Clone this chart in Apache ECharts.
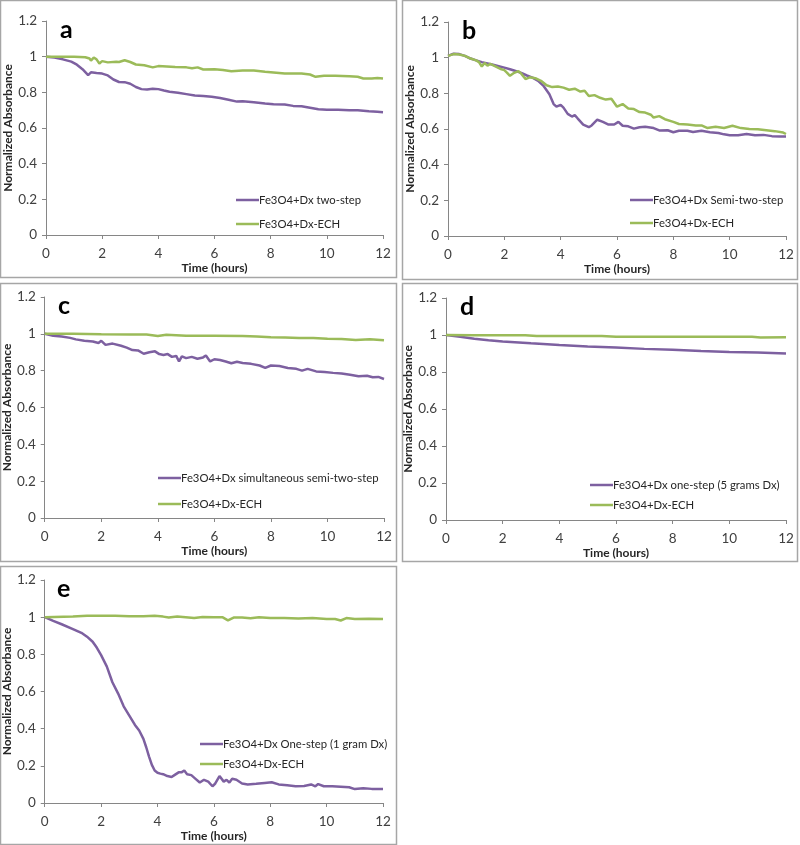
<!DOCTYPE html>
<html>
<head>
<meta charset="utf-8">
<script src="https://cdn.jsdelivr.net/npm/echarts@6/dist/echarts.min.js"></script>
<style>
  html, body { margin: 0; padding: 0; background: #fff; }
  #main { width: 800px; height: 845px; }
</style>
</head>
<body>
<div id="main"></div>
<script>
// 数据：每条曲线 [时间(小时), 归一化吸光度]
var aTwoStep = [[0,1],[0.3,0.995],[0.6,0.985],[0.9,0.972],[1.1,0.955],[1.3,0.93],[1.5,0.897],[1.6,0.912],[1.8,0.908],[2,0.905],[2.2,0.895],[2.4,0.872],[2.6,0.858],[2.8,0.857],[3,0.848],[3.2,0.83],[3.4,0.818],[3.6,0.816],[3.8,0.82],[4,0.818],[4.2,0.81],[4.4,0.803],[4.7,0.798],[5,0.79],[5.3,0.782],[5.6,0.78],[5.9,0.775],[6.2,0.768],[6.5,0.758],[6.8,0.748],[7,0.75],[7.4,0.745],[7.8,0.738],[8.1,0.733],[8.5,0.732],[8.8,0.724],[9.1,0.722],[9.4,0.714],[9.7,0.705],[10,0.703],[10.4,0.703],[10.8,0.7],[11.1,0.699],[11.5,0.694],[11.8,0.691],[12,0.689]];
var aEch = [[0,1],[0.5,1],[1,0.999],[1.4,0.997],[1.55,0.99],[1.6,0.978],[1.7,0.995],[1.8,0.985],[1.9,0.962],[2,0.975],[2.2,0.968],[2.5,0.972],[2.6,0.97],[2.8,0.98],[3,0.97],[3.2,0.956],[3.5,0.952],[3.8,0.94],[4,0.947],[4.3,0.945],[4.6,0.942],[5,0.94],[5.2,0.935],[5.4,0.94],[5.6,0.928],[6,0.93],[6.3,0.925],[6.6,0.918],[7,0.922],[7.4,0.922],[7.8,0.915],[8.2,0.91],[8.5,0.905],[8.8,0.905],[9.1,0.906],[9.4,0.9],[9.6,0.887],[9.9,0.893],[10.3,0.893],[10.8,0.89],[11.1,0.887],[11.3,0.878],[11.6,0.877],[11.8,0.88],[12,0.877]];

var bSemi = [[0,1.01],[0.2,1.022],[0.4,1.02],[0.6,1.01],[0.8,0.995],[1,0.985],[1.2,0.975],[1.4,0.968],[1.6,0.96],[1.8,0.952],[2,0.944],[2.2,0.935],[2.4,0.925],[2.6,0.915],[2.8,0.9],[3,0.888],[3.2,0.87],[3.4,0.84],[3.6,0.795],[3.75,0.74],[3.85,0.725],[4,0.735],[4.1,0.72],[4.25,0.685],[4.4,0.67],[4.5,0.678],[4.6,0.66],[4.8,0.625],[5,0.61],[5.1,0.62],[5.3,0.652],[5.5,0.64],[5.7,0.625],[5.9,0.625],[6.05,0.64],[6.2,0.618],[6.4,0.615],[6.6,0.602],[6.8,0.61],[7,0.612],[7.3,0.605],[7.5,0.592],[7.8,0.593],[8,0.582],[8.2,0.59],[8.5,0.59],[8.7,0.583],[9,0.59],[9.3,0.582],[9.6,0.578],[9.8,0.57],[10,0.565],[10.3,0.565],[10.6,0.572],[10.9,0.565],[11.2,0.567],[11.5,0.56],[11.8,0.558],[12,0.558]];
var bEch = [[0,1.01],[0.2,1.02],[0.4,1.018],[0.6,1.01],[0.8,0.995],[1,0.985],[1.1,0.975],[1.2,0.95],[1.3,0.97],[1.4,0.955],[1.5,0.965],[1.7,0.95],[1.9,0.935],[2,0.93],[2.1,0.915],[2.2,0.898],[2.35,0.915],[2.5,0.925],[2.6,0.91],[2.75,0.88],[2.9,0.89],[3.1,0.885],[3.3,0.87],[3.5,0.845],[3.7,0.835],[3.9,0.838],[4.1,0.832],[4.3,0.82],[4.5,0.826],[4.7,0.81],[4.85,0.815],[5,0.785],[5.2,0.79],[5.4,0.775],[5.6,0.765],[5.8,0.77],[6,0.725],[6.2,0.74],[6.4,0.715],[6.6,0.712],[6.8,0.695],[7,0.692],[7.2,0.68],[7.3,0.664],[7.5,0.672],[7.7,0.655],[8,0.64],[8.2,0.628],[8.5,0.625],[8.8,0.62],[9,0.62],[9.2,0.606],[9.5,0.612],[9.8,0.606],[10.1,0.618],[10.4,0.605],[10.7,0.6],[11,0.598],[11.3,0.593],[11.6,0.588],[11.9,0.58],[12,0.572]];

var cSimul = [[0,1],[0.3,0.99],[0.6,0.985],[0.9,0.978],[1.1,0.97],[1.4,0.962],[1.7,0.958],[1.9,0.95],[2,0.962],[2.15,0.94],[2.4,0.947],[2.7,0.935],[2.9,0.925],[3.1,0.912],[3.3,0.91],[3.5,0.892],[3.7,0.9],[3.9,0.905],[4.05,0.89],[4.2,0.885],[4.35,0.89],[4.5,0.875],[4.65,0.88],[4.75,0.85],[4.85,0.878],[5,0.868],[5.2,0.875],[5.4,0.865],[5.6,0.872],[5.7,0.882],[5.85,0.85],[6,0.862],[6.2,0.858],[6.4,0.85],[6.6,0.84],[6.8,0.848],[7,0.842],[7.3,0.837],[7.6,0.828],[7.8,0.815],[8,0.828],[8.3,0.825],[8.6,0.815],[8.9,0.81],[9.1,0.8],[9.3,0.81],[9.6,0.796],[9.9,0.793],[10.2,0.788],[10.5,0.785],[10.8,0.778],[11.1,0.77],[11.4,0.772],[11.6,0.764],[11.8,0.766],[12,0.755]];
var cEch = [[0,1],[1,1],[2,0.998],[3,0.997],[3.6,0.996],[4,0.988],[4.3,0.995],[5,0.99],[5.5,0.99],[6,0.99],[7,0.988],[7.5,0.986],[8,0.982],[8.5,0.98],[9,0.978],[9.5,0.978],[10,0.973],[10.5,0.972],[11,0.966],[11.5,0.97],[12,0.965]];

var dOne = [[0,1],[0.5,0.99],[1,0.98],[1.5,0.972],[2,0.965],[3,0.955],[4,0.946],[5,0.938],[6,0.932],[7,0.925],[8,0.92],[9,0.913],[10,0.908],[11,0.905],[12,0.9]];
var dEch = [[0,1],[1,0.998],[2,0.998],[2.8,0.999],[3.2,0.994],[4,0.995],[5,0.995],[5.5,0.995],[6,0.991],[7,0.991],[8,0.991],[9,0.991],[10,0.991],[10.8,0.991],[11.1,0.987],[12,0.988]];

var eOne = [[0,1],[0.3,0.98],[0.6,0.962],[1,0.936],[1.3,0.916],[1.5,0.895],[1.7,0.868],[1.85,0.835],[2,0.796],[2.2,0.735],[2.4,0.65],[2.6,0.59],[2.8,0.52],[3,0.47],[3.2,0.42],[3.35,0.39],[3.5,0.345],[3.6,0.3],[3.7,0.25],[3.8,0.205],[3.9,0.175],[4,0.163],[4.1,0.158],[4.2,0.155],[4.35,0.145],[4.5,0.14],[4.6,0.15],[4.75,0.165],[4.85,0.165],[4.95,0.175],[5.05,0.155],[5.2,0.15],[5.35,0.13],[5.5,0.11],[5.65,0.125],[5.8,0.115],[5.95,0.09],[6.05,0.105],[6.2,0.145],[6.35,0.115],[6.45,0.125],[6.55,0.11],[6.65,0.13],[6.8,0.125],[7,0.105],[7.2,0.1],[7.5,0.103],[7.8,0.108],[8.05,0.112],[8.3,0.1],[8.6,0.095],[8.9,0.09],[9.2,0.092],[9.45,0.1],[9.6,0.09],[9.7,0.102],[9.9,0.09],[10.2,0.09],[10.5,0.088],[10.8,0.085],[11,0.075],[11.3,0.08],[11.6,0.076],[12,0.075]];
var eEch = [[0,1],[1,1.003],[1.5,1.007],[2,1.008],[2.5,1.008],[3,1.005],[3.5,1.005],[3.9,1.008],[4.2,1.003],[4.4,0.998],[4.7,1.004],[5,1.0],[5.3,0.996],[5.6,1.001],[6,1.0],[6.3,1.0],[6.5,0.983],[6.7,0.998],[7,0.998],[7.3,0.994],[7.6,1.0],[8,0.995],[8.5,0.996],[9,0.993],[9.5,0.995],[10,0.99],[10.3,0.99],[10.5,0.982],[10.7,0.995],[11,0.99],[11.5,0.992],[12,0.99]];

var panelLetters = ['a', 'b', 'c', 'd', 'e'];
var purpleNames = ['Fe3O4+Dx two-step', 'Fe3O4+Dx Semi-two-step', 'Fe3O4+Dx simultaneous semi-two-step', 'Fe3O4+Dx one-step (5 grams Dx)', 'Fe3O4+Dx One-step (1 gram Dx)'];
var greenName = 'Fe3O4+Dx-ECH';
var purpleData = [aTwoStep, bSemi, cSimul, dOne, eOne];
var greenData = [aEch, bEch, cEch, dEch, eEch];

// 布局：grid [left, top, width, height]，图例 [left, top, itemGap]，边框
var panels = [
  { grid: [46, 21, 337, 214], legend: [236, 193, 10], box: [0.5, 0.5, 396, 277] },
  { grid: [448, 22, 338, 214], legend: [630, 193, 9], box: [402.5, 0.5, 395, 279] },
  { grid: [44, 297, 340, 221], legend: [158, 471, 12], box: [0.5, 283.5, 396, 278] },
  { grid: [446, 298, 340, 222], legend: [590, 478, 6], box: [402.5, 283.5, 395, 278] },
  { grid: [43, 580, 340, 223], legend: [200, 737, 6], box: [0.5, 566.5, 396, 278] }
];

var PURPLE = '#7D60A0';
var GREEN = '#9BBB59';
var FONT = 'Lato';

var option = {
  animation: false,
  backgroundColor: '#fff',
  textStyle: { fontFamily: FONT },
  title: [],
  legend: [],
  grid: [],
  xAxis: [],
  yAxis: [],
  series: [],
  graphic: []
};

panels.forEach(function (p, i) {
  var g = p.grid;
  option.grid.push({ left: g[0], top: g[1], width: g[2], height: g[3], show: false });
  option.title.push({
    text: panelLetters[i],
    left: g[0] + 9,
    top: g[1] - 9,
    textStyle: { fontFamily: FONT, fontWeight: 'bold', fontSize: 25, color: '#000' }
  });
  option.xAxis.push({
    gridIndex: i,
    type: 'value',
    min: 0,
    max: 12,
    interval: 2,
    name: 'Time (hours)',
    nameLocation: 'middle',
    nameGap: 26,
    nameTextStyle: { fontFamily: FONT, fontWeight: 'bold', fontSize: 12, color: '#262626' },
    axisLine: { lineStyle: { color: '#868686', width: 1 } },
    axisTick: { show: true, length: 4, lineStyle: { color: '#868686' } },
    axisLabel: { margin: 12, fontSize: 13.5, color: '#404040', fontFamily: FONT },
    splitLine: { show: false }
  });
  option.yAxis.push({
    gridIndex: i,
    type: 'value',
    min: 0,
    max: 1.2,
    interval: 0.2,
    name: 'Normalized Absorbance',
    nameLocation: 'middle',
    nameRotate: 90,
    nameGap: 31,
    nameTextStyle: { fontFamily: FONT, fontWeight: 'bold', fontSize: 12, color: '#262626' },
    axisLine: { show: true, lineStyle: { color: '#868686', width: 1 } },
    axisTick: { show: true, length: 4, lineStyle: { color: '#868686' } },
    axisLabel: {
      margin: 9, fontSize: 13.5, color: '#404040', fontFamily: FONT,
      formatter: function (v) { return String(Math.round(v * 10) / 10); }
    },
    splitLine: { show: false }
  });
  option.series.push({
    name: purpleNames[i],
    type: 'line',
    xAxisIndex: i,
    yAxisIndex: i,
    data: purpleData[i],
    symbol: 'none',
    lineStyle: { color: PURPLE, width: 2.5 },
    itemStyle: { color: PURPLE }
  });
  option.series.push({
    name: greenName,
    type: 'line',
    xAxisIndex: i,
    yAxisIndex: i,
    data: greenData[i],
    symbol: 'none',
    lineStyle: { color: GREEN, width: 2.5 },
    itemStyle: { color: GREEN }
  });
  option.legend.push({
    data: [purpleNames[i], greenName],
    orient: 'vertical',
    left: p.legend[0],
    top: p.legend[1],
    padding: 0,
    itemGap: p.legend[2],
    icon: 'rect',
    itemWidth: 23,
    itemHeight: 2.5,
    selectedMode: false,
    textStyle: { fontFamily: FONT, fontSize: 11.3, lineHeight: 14, color: '#262626', padding: [0, 0, 0, -5] }
  });
  var b = p.box;
  option.graphic.push({
    type: 'rect',
    shape: { x: b[0], y: b[1], width: b[2], height: b[3] },
    style: { fill: 'none', stroke: '#a6a6a6', lineWidth: 1.5 },
    silent: true
  });
});

var myChart = echarts.init(document.getElementById('main'));
myChart.setOption(option);
</script>
</body>
</html>
